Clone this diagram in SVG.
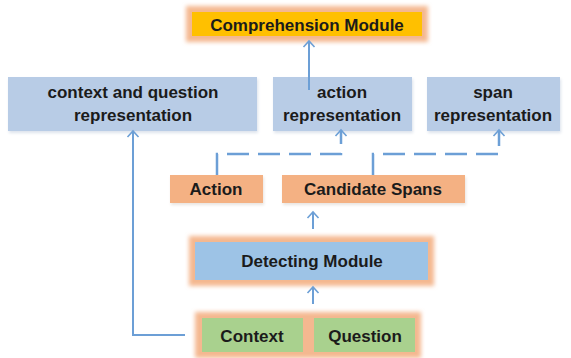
<svg xmlns="http://www.w3.org/2000/svg" width="571" height="358" viewBox="0 0 571 358">
<defs>
<style>
.t{font-family:"Liberation Sans",Arial,sans-serif;font-weight:bold;font-size:17px;fill:#1b1b1b;text-anchor:middle}
.glow{fill:#F4B890;filter:url(#blur)}
.rep{fill:#B8CCE6}
.org{fill:#F4B183}
.grn{fill:#A9D18E}
.ln{fill:none;stroke:#6C9FD6;stroke-width:2}
.dash{fill:none;stroke:#6C9FD6;stroke-width:2.5;stroke-dasharray:22 9}
</style>
<filter id="blur" x="-10%" y="-30%" width="120%" height="160%"><feGaussianBlur stdDeviation="2"/></filter>
<filter id="sh" x="-10%" y="-20%" width="120%" height="140%"><feGaussianBlur stdDeviation="1.5"/></filter>
<marker id="ah" markerWidth="14" markerHeight="14" refX="8" refY="7" orient="auto" markerUnits="userSpaceOnUse"><path d="M2,1.5 L8,7 L2,12.5" fill="none" stroke="#6C9FD6" stroke-width="1.6"/></marker>
</defs>
<rect width="571" height="358" fill="#ffffff"/>
<g id="comprehension">
<rect class="glow" x="186" y="6" width="242" height="36"/>
<rect x="192" y="12" width="230" height="24" fill="#FFC000"/>
<text class="t" x="307" y="30.5">Comprehension Module</text>
</g>
<g id="cq-rep">
<rect x="9" y="79" width="249" height="54" fill="#DDE3EC" filter="url(#sh)"/>
<rect class="rep" x="8" y="77" width="249" height="54"/>
<text class="t" x="133" y="98">context and question</text>
<text class="t" x="133" y="121">representation</text>
</g>
<g id="action-rep">
<rect x="274" y="79" width="139" height="54" fill="#DDE3EC" filter="url(#sh)"/>
<rect class="rep" x="273" y="77" width="139" height="54"/>
<text class="t" x="342" y="98">action</text>
<text class="t" x="342" y="121">representation</text>
</g>
<g id="span-rep">
<rect x="428" y="79" width="133" height="54" fill="#DDE3EC" filter="url(#sh)"/>
<rect class="rep" x="427" y="77" width="133" height="54"/>
<text class="t" x="493" y="98">span</text>
<text class="t" x="493" y="121">representation</text>
</g>
<g id="action">
<rect x="171" y="177" width="93" height="28" fill="#E8E4E0" filter="url(#sh)"/>
<rect class="org" x="170" y="175" width="93" height="28"/>
<text class="t" x="216" y="195">Action</text>
</g>
<g id="candidate">
<rect x="283" y="177" width="183" height="28" fill="#E8E4E0" filter="url(#sh)"/>
<rect class="org" x="282" y="175" width="183" height="28"/>
<text class="t" x="373" y="195">Candidate Spans</text>
</g>
<g id="detecting">
<rect class="glow" x="189" y="236" width="245" height="50"/>
<rect x="195" y="242" width="233" height="38" fill="#9DC3E6"/>
<text class="t" x="312" y="267">Detecting Module</text>
</g>
<g id="inputs">
<rect class="glow" x="195" y="312" width="226" height="46"/>
<g id="context">
<rect class="grn" x="202" y="318" width="101" height="34"/>
<text class="t" x="252" y="342">Context</text>
</g>
<g id="question">
<rect class="grn" x="314" y="318" width="101" height="34"/>
<text class="t" x="365" y="342">Question</text>
</g>
</g>
<g id="connectors">
<path class="ln" d="M309,90 V41" marker-end="url(#ah)"/>
<path class="dash" d="M217,175 V154 H341 V130" marker-end="url(#ah)"/>
<path class="dash" d="M373,175 V154 H499 V130" marker-end="url(#ah)"/>
<path class="ln" d="M185,335 H133 V131" marker-end="url(#ah)"/>
<path class="ln" d="M313,229 V212" marker-end="url(#ah)"/>
<path class="ln" d="M313,304 V287" marker-end="url(#ah)"/>
</g>
</svg>
